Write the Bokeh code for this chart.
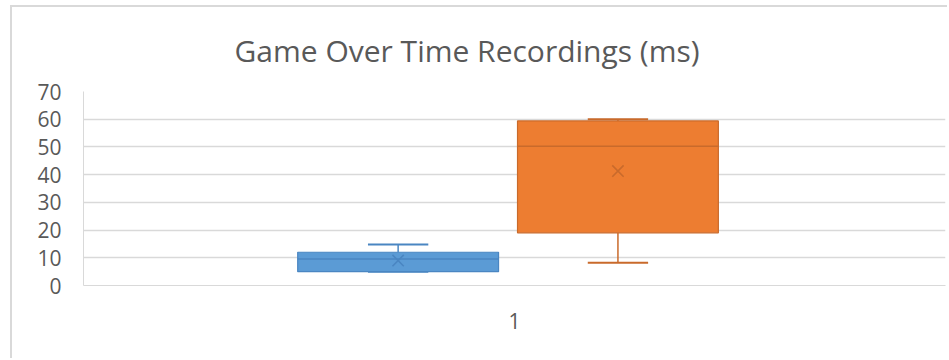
from bokeh.plotting import figure
from bokeh.models import Range1d, FixedTicker
from bokeh.embed import file_html
from bokeh.resources import INLINE

# Summary statistics for each recorded series (milliseconds)
series = ["Series 1", "Series 2"]
q1 = [5.0, 19.0]
median = [9.6, 50.2]
q3 = [12.0, 59.4]
whisker_low = [5.0, 8.2]
whisker_high = [14.8, 60.0]
mean = [9.0, 41.3]
fill_colors = ["#5B9BD5", "#ED7D31"]
edge_colors = ["#4A86C2", "#C96A2B"]

y_ticks = [0, 10, 20, 30, 40, 50, 60, 70]
category_labels = ["1"]
title_text = "Game Over Time Recordings (ms)"

FONT = "Open Sans"
TEXT = "#595959"
GRID = "#D9D9D9"

# the chart area sits inside a thin border offset from the page corner
OX, OY = 12, 7
W, H = 949 - OX, 360 - OY
LEFT, RIGHT = 83 - OX, 4
TOP = 91 - OY
BOTTOM = H - TOP - 194

p = figure(width=W, height=H, output_backend="svg", toolbar_location=None,
           x_range=Range1d(0, 1), y_range=Range1d(0, 70),
           min_border_left=LEFT, min_border_right=RIGHT,
           min_border_top=TOP, min_border_bottom=BOTTOM,
           title=title_text)
p.margin = (OY - 2, 0, 0, OX - 2)
p.styles = {"border-left": "2px solid #D9D9D9", "border-top": "2px solid #D9D9D9"}
p.outline_line_color = None
p.background_fill_color = "white"
p.border_fill_color = "white"

p.title.align = "left"
p.title.offset = 151
p.title.standoff = 41
p.title.text_font = FONT
p.title.text_font_size = "30px"
p.title.text_font_style = "normal"
p.title.text_color = TEXT

# axes
p.yaxis.ticker = FixedTicker(ticks=y_ticks)
p.yaxis.major_tick_line_color = None
p.yaxis.minor_tick_line_color = None
p.yaxis.axis_line_color = GRID
p.yaxis.major_label_text_font = FONT
p.yaxis.major_label_text_font_size = "21px"
p.yaxis.major_label_text_color = TEXT
p.yaxis.major_label_standoff = 16

p.xaxis.ticker = FixedTicker(ticks=[0.5])
p.xaxis.major_label_overrides = {0.5: category_labels[0]}
p.xaxis.major_tick_line_color = None
p.xaxis.minor_tick_line_color = None
p.xaxis.axis_line_color = GRID
p.xaxis.major_label_text_font = FONT
p.xaxis.major_label_text_font_size = "21px"
p.xaxis.major_label_text_color = TEXT
p.xaxis.major_label_standoff = 21

p.xgrid.grid_line_color = None
p.ygrid.ticker = FixedTicker(ticks=y_ticks)
p.ygrid.grid_line_color = GRID
p.ygrid.grid_line_width = 1.5

# box placement within the single category
box_width = 0.233
cap_width = 0.070
offsets = [-0.135, 0.120]
centers = [0.5 + o for o in offsets]

for i in range(len(series)):
    c = centers[i]
    fc, ec = fill_colors[i], edge_colors[i]
    # whiskers
    p.segment(x0=[c, c], y0=[q3[i], q1[i]], x1=[c, c], y1=[whisker_high[i], whisker_low[i]],
              line_color=ec, line_width=1.5)
    p.segment(x0=[c - cap_width / 2] * 2, y0=[whisker_high[i], whisker_low[i]],
              x1=[c + cap_width / 2] * 2, y1=[whisker_high[i], whisker_low[i]],
              line_color=ec, line_width=2)
    # box
    p.vbar(x=[c], width=box_width, bottom=[q1[i]], top=[q3[i]],
           fill_color=fc, line_color=ec, line_width=1.2)
    # median
    p.segment(x0=[c - box_width / 2], y0=[median[i]], x1=[c + box_width / 2], y1=[median[i]],
              line_color=ec, line_width=1.5)
    # mean
    p.scatter(x=[c], y=[mean[i]], marker="x", size=16, line_color=ec, line_width=1.6)

open("out.html", "w").write(file_html(p, INLINE))
